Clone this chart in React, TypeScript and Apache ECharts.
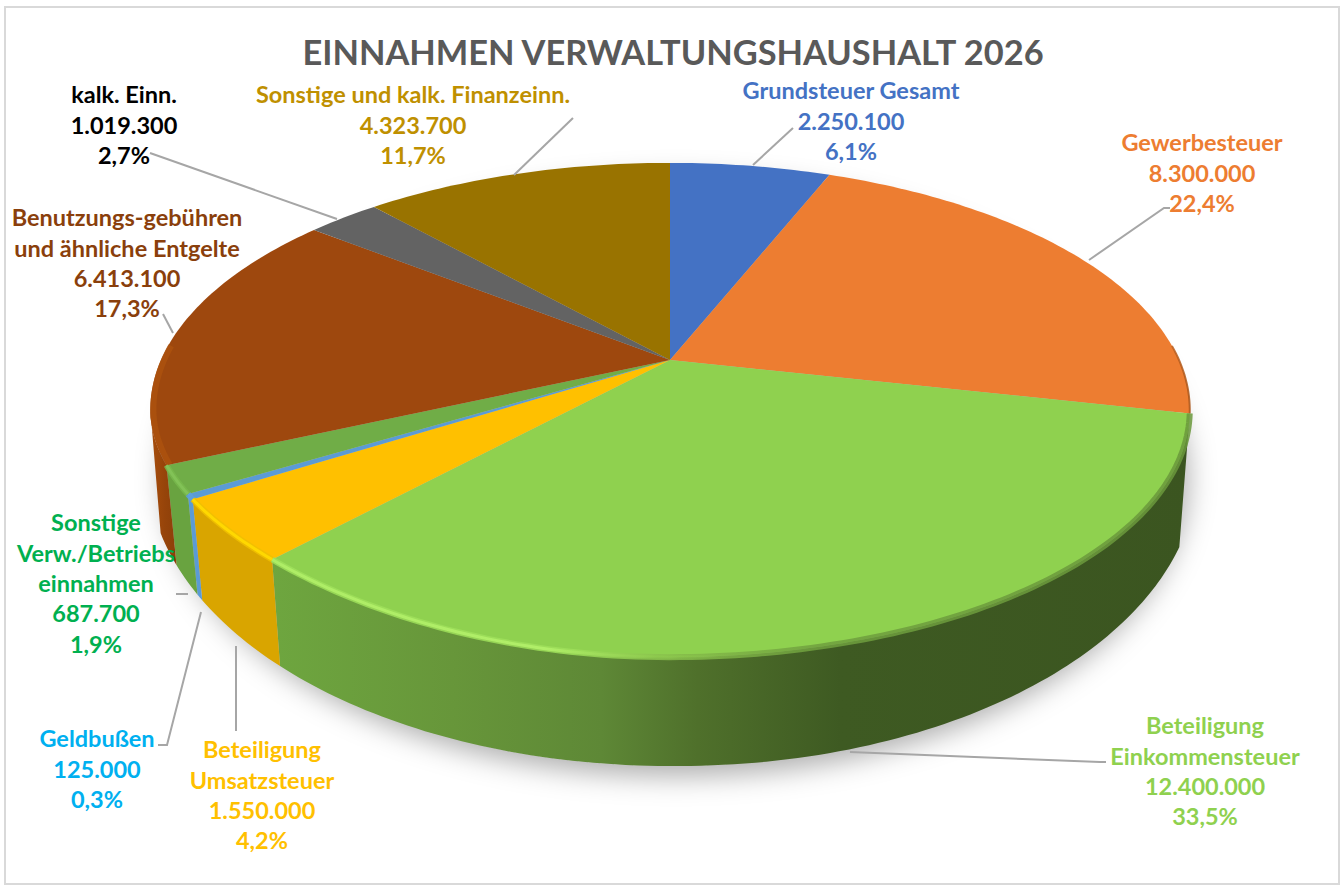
import React, { useEffect, useRef } from "react";
import * as echarts from "echarts";

const titleText = "EINNAHMEN VERWALTUNGSHAUSHALT 2026";
const categories = [
  "Grundsteuer Gesamt",
  "Gewerbesteuer",
  "Beteiligung\nEinkommensteuer",
  "Beteiligung\nUmsatzsteuer",
  "Geldbußen",
  "Sonstige\nVerw./Betriebs\neinnahmen",
  "Benutzungs-gebühren\nund ähnliche Entgelte",
  "kalk. Einn.",
  "Sonstige und kalk. Finanzeinn.",
];
const values = [2250100, 8300000, 12400000, 1550000, 125000, 687700, 6413100, 1019300, 4323700];
const topColors = ["#4472c4", "#ed7d31", "#8fd14f", "#ffc000", "#5b9bd5", "#70ad47", "#9e480e", "#636363", "#997300"];
const labelColors = ["#4472c4", "#ed7d31", "#8fd14f", "#ffc000", "#00b0f0", "#00b050", "#8a3f0c", "#000000", "#bf9000"];
const labelCentres: [number, number][] = [
  [851, 90], [1202, 142], [1205, 725], [262, 749], [97, 738], [96, 522], [127, 217], [124, 94], [413, 94],
];
const leaders: number[][][] = [
  [[753, 165], [793, 128]],
  [[1089, 260], [1164, 208], [1170, 208]],
  [[850, 752], [1100, 762], [1106, 762]],
  [[236, 646], [236, 731]],
  [[201, 612], [167, 745], [158, 745]],
  [[176, 594], [188, 594]],
  [[173, 333], [163, 314]],
  [[337, 219], [150, 153]],
  [[514, 175], [573, 118]],
];

const CX = 670, CY = 360, A = 509, B = 237, P = 0.2024;
const TOP_Y = 410;
const BOT_Y = 468, BOT_RY = 298, INSET = 0.98;

const total = values.reduce((a, b) => a + b, 0);
const fmtValue = (v: number) => String(v).replace(/\B(?=(\d{3})+$)/g, ".");
const fmtPct = (v: number) => ((v / total) * 100).toFixed(1).replace(".", ",") + "%";

function rim(frac: number): [number, number] {
  const a = frac * Math.PI * 2;
  const u = Math.sin(a), v = -Math.cos(a), w = 1 - P * v;
  let k = 1;
  if (frac > 0.5 && frac < 0.72) {
    const s = Math.sin(((frac - 0.5) / 0.22) * Math.PI);
    k = 1 - 0.022 * s * s;
  }
  return [CX + (k * A * u) / w, CY + (k * B * v) / w];
}
function below(p: [number, number]): [number, number] {
  const x = CX + (p[0] - CX) * INSET;
  const cx = x < CX ? 670 : 678;
  const rx = x < CX ? 522 : 520;
  const t = Math.min(1, Math.abs(x - cx) / rx);
  return [x, BOT_Y + BOT_RY * Math.sqrt(1 - t * t)];
}
function rimPoints(f0: number, f1: number) {
  const n = Math.max(4, Math.ceil((f1 - f0) * 360));
  const pts: [number, number][] = [];
  for (let i = 0; i <= n; i++) pts.push(rim(f0 + ((f1 - f0) * i) / n));
  return pts;
}
const inward = (p: [number, number], k: number): [number, number] => [CX + (p[0] - CX) * k, CY + (p[1] - CY) * k];
const G = (stops: [number, string][], x0 = 150, x1 = 1190) =>
  new echarts.graphic.LinearGradient(x0, 0, x1, 0, stops.map(([offset, color]) => ({ offset, color })), true);

const wallFill: Record<number, any> = {
  2: () => G([[0, "#6ea63f"], [0.2, "#67963a"], [0.36, "#5e8836"], [0.465, "#4f702b"], [0.62, "#3e5a22"], [1, "#3b5520"]], 270, 1190),
  3: () => "#d9a500",
  4: () => "#5b9bd5",
  5: () => "#69a340",
  6: () => G([[0, "#a84e0c"], [0.5, "#96440a"], [1, "#8a3e08"]], 150, 180),
};
const bevelWide: Record<number, any> = {
  1: () => G([[0, "#ed7d31"], [0.8, "#ed7d31"], [1, "#a85418"]], 830, 1192),
  2: () => G([[0, "#9ee05a"], [0.33, "#9edf5a"], [0.45, "#84ba49"], [0.6, "#6f9f3e"], [1, "#6a983b"]], 270, 1190),
  3: () => "#f0c000",
  4: () => "#5ea1de",
  5: () => "#78b84c",
  6: () => "#ac520e",
};
const bevelNarrow: Record<number, any> = {
  2: () => G([[0, "#aeed66"], [0.3, "#b0ee68"], [0.42, "rgba(143,204,78,0.6)"], [0.5, "rgba(143,204,78,0)"], [1, "rgba(143,204,78,0)"]], 270, 1190),
  3: () => "#ffd800",
  5: () => "#82c257",
};

const starts: number[] = [];
values.reduce((acc, v, i) => { starts[i] = acc; return acc + v; }, 0);

function renderSlice(params: any, api: any) {
  const i = params.dataIndex;
  const f0 = api.value(1) / total;
  const f1 = f0 + api.value(0) / total;
  const pts = rimPoints(f0, f1);
  const children: any[] = [];
  const front = pts.filter((p) => p[1] >= TOP_Y - 4);
  if (wallFill[i] && front.length > 1) {
    const bottoms = front.map(below).reverse();
    children.push({
      type: "polygon",
      z2: 2,
      shape: { points: [...front, ...bottoms] },
      style: { fill: wallFill[i](), stroke: "none" },
    });
  }
  children.push({
    type: "polygon",
    z2: 5,
    shape: { points: [[CX, CY], ...pts] },
    style: { fill: topColors[i], stroke: "none" },
  });
  if (bevelWide[i]) {
    let band = pts;
    if (i === 6) band = pts.filter((p) => p[1] > 345).map((p) => inward(p, 0.994));
    if (i === 1) band = pts.filter((p) => p[1] > 345);
    children.push({
      type: "polyline",
      z2: 6,
      shape: { points: band },
      style: { fill: "none", stroke: bevelWide[i](), lineWidth: i === 1 ? 2 : i === 6 ? 6 : 6, opacity: 0.85, lineCap: "butt" },
    });
    if (bevelNarrow[i]) {
      children.push({
        type: "polyline",
        z2: 7,
        shape: { points: band },
        style: { fill: "none", stroke: bevelNarrow[i](), lineWidth: 3, lineCap: "butt" },
      });
    }
  }
  return { type: "group", children };
}

function renderShadow() {
  const pts: [number, number][] = [];
  for (let d = 0; d < 360; d += 3) {
    const a = (d * Math.PI) / 180;
    pts.push([CX + 512 * Math.cos(a), BOT_Y + BOT_RY * Math.sin(a)]);
  }
  return {
    type: "polygon",
    shape: { points: pts },
    style: { fill: "#bdbdbd", shadowBlur: 28, shadowColor: "rgba(0,0,0,0.32)", shadowOffsetX: 6, shadowOffsetY: 10 },
  };
}

export default function App() {
  const ref = useRef<HTMLDivElement>(null);
  useEffect(() => {
    const chart = echarts.init(ref.current!, undefined, { renderer: "svg" });
    const font = "Lato, 'Open Sans', sans-serif";
    chart.setOption({
      animation: false,
      backgroundColor: "#ffffff",
      title: {
        text: titleText,
        left: 668,
        top: 29,
        textAlign: "center",
        textStyle: { color: "#595959", fontFamily: font, fontWeight: "bold", fontSize: 34.4 },
      },
      series: [
        {
          type: "custom",
          coordinateSystem: "none",
          silent: true,
          z: 1,
          data: [[0]],
          renderItem: renderShadow,
        },
        {
          type: "custom",
          coordinateSystem: "none",
          silent: true,
          z: 2,
          data: values.map((v, i) => [v, starts[i]]),
          renderItem: renderSlice,
        },
      ],
      graphic: [
        {
          type: "rect",
          z: 0,
          silent: true,
          shape: { x: 5, y: 7, width: 1334, height: 877 },
          style: { fill: "none", stroke: "#d9d9d9", lineWidth: 2 },
        },
        ...leaders.map((points) => ({
          type: "polyline",
          z: 3,
          silent: true,
          shape: { points },
          style: { fill: "none", stroke: "#a6a6a6", lineWidth: 2 },
        })),
        ...categories.map((name, i) => ({
          type: "text",
          z: 4,
          silent: true,
          x: labelCentres[i][0],
          y: labelCentres[i][1] - 15,
          style: {
            text: `${name}\n${fmtValue(values[i])}\n${fmtPct(values[i])}`,
            fill: labelColors[i],
            font: `bold 23.5px ${font}`,
            lineHeight: 30.4,
            align: "center",
            verticalAlign: "top",
          },
        })),
      ],
    });
    return () => chart.dispose();
  }, []);
  return <div ref={ref} style={{ position: "fixed", left: 0, top: 0, width: 1341, height: 886 }} />;
}
